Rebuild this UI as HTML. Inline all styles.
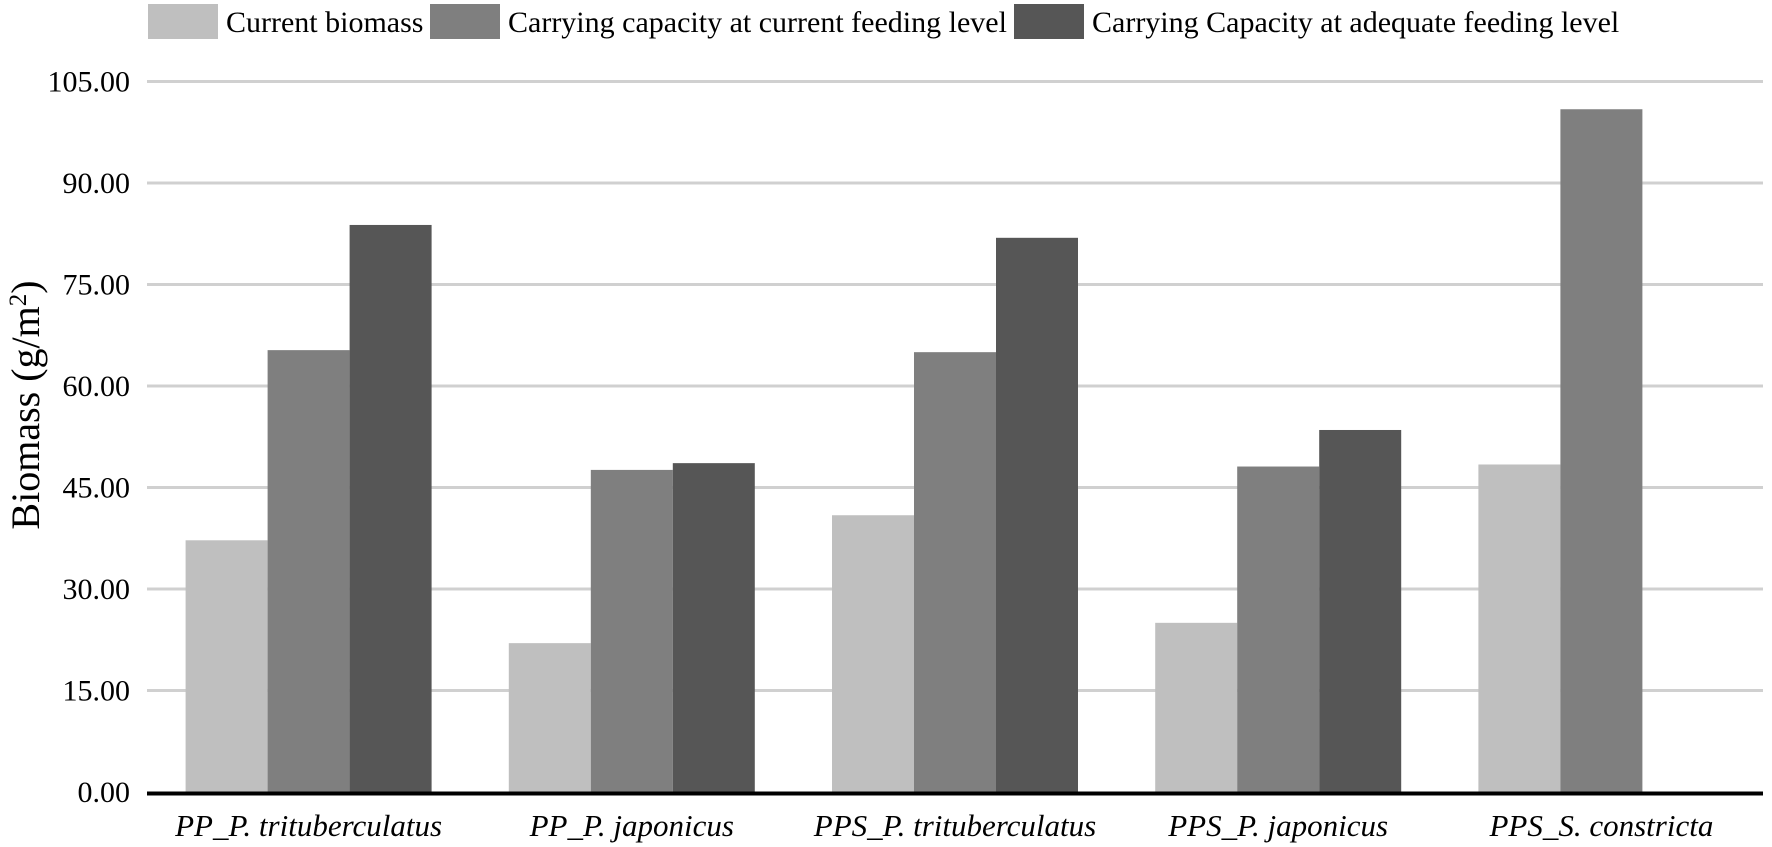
<!DOCTYPE html>
<html><head><meta charset="utf-8"><style>
html,body{margin:0;padding:0;background:#fff;}
svg{display:block;font-family:"Liberation Serif",serif;}
</style></head><body>
<svg id="chart" width="1772" height="847" viewBox="0 0 1772 847">
<g id="legend"></g>
<g id="grid"></g>
<g id="bars"></g>
<g id="axes"></g>
<text transform="translate(39,405) rotate(-90)" text-anchor="middle" font-size="40" fill="#000">Biomass (g/m<tspan baseline-shift="super" font-size="25">2</tspan>)</text>
</svg>
<script>
const categories = ["PP_P. trituberculatus","PP_P. japonicus","PPS_P. trituberculatus","PPS_P. japonicus","PPS_S. constricta"];
const seriesNames = ["Current biomass","Carrying capacity at current feeding level","Carrying Capacity at adequate feeding level"];
const currentBiomass = [37.2, 22.0, 40.9, 25.0, 48.4];
const capacityCurrent = [65.3, 47.6, 65.0, 48.1, 100.9];
const capacityAdequate = [83.8, 48.6, 81.9, 53.5, null];
const yTicks = [0, 15, 30, 45, 60, 75, 90, 105];
const yTickLabels = ["0.00","15.00","30.00","45.00","60.00","75.00","90.00","105.00"];

const NS = "http://www.w3.org/2000/svg";
const colors = ["#bfbfbf","#7f7f7f","#565656"];
const plotL = 147, plotR = 1763, y0 = 792, yTop = 81.5, yMax = 105;
const groupW = (plotR - plotL) / categories.length;
const barW = 82;
function yScale(v){ return y0 - (v / yMax) * (y0 - yTop); }
function xGroup(i){ return plotL + groupW * (i + 0.5); }
function mk(tag, attrs, parent){
  const e = document.createElementNS(NS, tag);
  for (const k in attrs) e.setAttribute(k, attrs[k]);
  parent.appendChild(e);
  return e;
}
const grid = document.getElementById('grid');
const axes = document.getElementById('axes');
yTicks.forEach((t, i) => {
  if (t > 0) {
    const l = mk('line', {x1: plotL, x2: plotR, y1: yScale(t), y2: yScale(t), stroke: '#d0d0d0', 'stroke-width': 3}, grid);
    
    
  }
  const tx = mk('text', {x: 130, y: yScale(t) + 10, 'text-anchor': 'end', 'font-size': 30, fill: '#000'}, axes);
  tx.textContent = yTickLabels[i];
  
  
});
const bars = document.getElementById('bars');
const series = [currentBiomass, capacityCurrent, capacityAdequate];
series.forEach((vals, s) => {
  vals.forEach((v, i) => {
    if (v === null || v === undefined) return;
    const x = xGroup(i) + (s - 1.5) * barW;
    const r = mk('rect', {x: x, y: yScale(v), width: barW, height: y0 - yScale(v), fill: colors[s]}, bars);
    
    
  });
});
const axisLine = mk('line', {x1: plotL, x2: plotR, y1: y0 + 1.5, y2: y0 + 1.5, stroke: '#000', 'stroke-width': 4}, axes);


categories.forEach((c, i) => {
  const t = mk('text', {x: xGroup(i), y: 836, 'text-anchor': 'middle', 'font-size': 31, 'font-style': 'italic', fill: '#000'}, axes);
  t.textContent = c;
  
  
});
const legend = document.getElementById('legend');
const legX = [148, 430, 1014];
seriesNames.forEach((n, s) => {
  const sw = mk('rect', {x: legX[s], y: 4, width: 70, height: 35, fill: colors[s]}, legend);
  
  
  const t = mk('text', {x: legX[s] + 78, y: 32, 'font-size': 30, fill: '#000'}, legend);
  t.textContent = n;
  
  
});
</script>
</body></html>
